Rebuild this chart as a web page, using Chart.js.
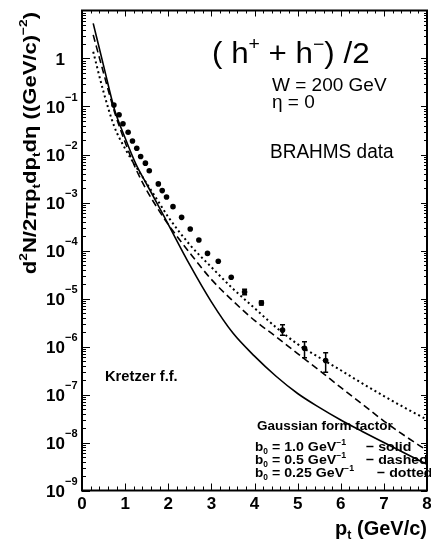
<!DOCTYPE html>
<html>
<head>
<meta charset="utf-8">
<script src="https://cdn.jsdelivr.net/npm/chart.js@4.4.1/dist/chart.umd.min.js"></script>
<style>
  html, body { margin: 0; padding: 0; background: #fff; }
  canvas { display: block; }
</style>
</head>
<body>
<canvas id="c" width="431" height="543"></canvas>
<script>
// BRAHMS charged hadrons, (h+ + h-)/2, eta = 0
const ptData = [0.74, 0.86, 0.95, 1.07, 1.17, 1.27, 1.36, 1.47, 1.56, 1.77, 1.86, 1.96,
                2.11, 2.31, 2.51, 2.71, 2.91, 3.16, 3.46, 3.77, 4.16, 4.65, 5.16, 5.65];
const yieldData = [0.107, 0.0675, 0.0438, 0.029, 0.0191, 0.0135, 0.0091, 0.0066, 0.0046,
                   2.44e-3, 1.77e-3, 1.3e-3, 8.2e-4, 4.9e-4, 2.8e-4, 1.65e-4, 8.7e-5, 5.96e-5,
                   2.77e-5, 1.37e-5, 8.1e-6, 2.2e-6, 9.2e-7, 5.1e-7];
const errLow  = [null, null, null, null, null, null, null, null, null, null, null, null,
                 null, null, null, null, null, null, null, 1.2e-5, 7.3e-6, 1.71e-6, 5.85e-7, 2.9e-7];
const errHigh = [null, null, null, null, null, null, null, null, null, null, null, null,
                 null, null, null, null, null, null, null, 1.55e-5, 8.9e-6, 2.85e-6, 1.26e-6, 7.4e-7];

// model curves, Gaussian form factor with three widths b0
const ptGrid = [0.26, 0.5, 0.75, 1.0, 1.25, 1.5, 1.75, 2.0, 2.5, 3.0, 3.5, 4.0, 4.5, 5.0,
                5.5, 6.0, 6.5, 7.0, 7.5, 8.0];
const solidB10 = [5.4, 0.71, 0.089, 0.022, 6.3e-3, 2.4e-3, 9.3e-4, 3.5e-4, 5.0e-5, 8.5e-6,
                  1.9e-6, 6.3e-7, 2.4e-7, 1.05e-7, 5.4e-8, 2.95e-8, 1.7e-8, 1.0e-8, 5.9e-9, 3.5e-9];
const dashedB05 = [3.1, 0.5, 0.079, 0.018, 5.0e-3, 1.8e-3, 7.6e-4, 3.5e-4, 8.9e-5, 2.5e-5,
                   8.9e-6, 3.5e-6, 1.6e-6, 7.1e-7, 3.2e-7, 1.4e-7, 6.3e-8, 2.8e-8, 1.35e-8, 6.8e-9];
const dottedB025 = [1.38, 0.2, 0.038, 0.0132, 5.6e-3, 2.5e-3, 1.12e-3, 5.0e-4, 1.32e-4, 4.5e-5,
                    1.6e-5, 6.3e-6, 2.5e-6, 1.12e-6, 5.9e-7, 3.2e-7, 1.7e-7, 9.3e-8, 5.2e-8, 3.0e-8];

// axis labels
const xTickLabels = ['0', '1', '2', '3', '4', '5', '6', '7', '8'];
const yTickValues = [1, 1e-1, 1e-2, 1e-3, 1e-4, 1e-5, 1e-6, 1e-7, 1e-8, 1e-9];
const yTickBase = ['1', '10', '10', '10', '10', '10', '10', '10', '10', '10'];
const yTickExp  = ['', '−1', '−2', '−3', '−4', '−5', '−6', '−7', '−8', '−9'];

const FONT = "'Liberation Sans', Arial, Helvetica, sans-serif";

function setFont(ctx, size, weight) {
  ctx.font = (weight || 'normal') + ' ' + size + 'px ' + FONT;
}
// parts: [text, 'n' | 'sup' | 'sub']
function richWidth(ctx, parts, size, weight) {
  let w = 0;
  for (const [t, k] of parts) {
    setFont(ctx, k === 'n' ? size : size * 0.62, weight);
    w += ctx.measureText(t).width;
  }
  return w;
}
function drawRich(ctx, parts, x, y, size, weight, align, sx) {
  sx = sx || 1;
  ctx.save();
  ctx.translate(x, y);
  ctx.scale(sx, 1);
  const w = richWidth(ctx, parts, size, weight);
  let cx = align === 'right' ? -w : align === 'center' ? -w / 2 : 0;
  ctx.textBaseline = 'alphabetic';
  ctx.textAlign = 'left';
  ctx.fillStyle = '#000';
  for (const [t, k] of parts) {
    const s = k === 'n' ? size : size * 0.62;
    setFont(ctx, s, weight);
    const dy = k === 'sup' ? -size * 0.45 : k === 'sub' ? size * 0.22 : 0;
    ctx.fillText(t, cx, dy);
    cx += ctx.measureText(t).width;
  }
  ctx.restore();
}

const framePlugin = {
  id: 'frame',
  afterDatasetsDraw(chart) {
    const ctx = chart.ctx, a = chart.chartArea;
    const xs = chart.scales.x, ys = chart.scales.y;
    ctx.save();
    ctx.strokeStyle = '#000';
    ctx.lineWidth = 1;
    ctx.beginPath();
    // bottom and top ticks, every 0.2
    for (let i = 0; i <= 40; i++) {
      const v = i * 0.2;
      const px = Math.round(xs.getPixelForValue(v)) + 0.5;
      const major = i % 5 === 0;
      const lb = major ? 7 : 4, lt = major ? 6 : 3;
      ctx.moveTo(px, a.bottom); ctx.lineTo(px, a.bottom - lb);
      ctx.moveTo(px, a.top); ctx.lineTo(px, a.top + lt);
    }
    // left and right log ticks
    for (let e = -9; e <= 0; e++) {
      for (let m = 1; m <= 9; m++) {
        const v = m * Math.pow(10, e);
        const py = Math.round(ys.getPixelForValue(v)) + 0.5;
        const major = m === 1;
        const ll = major ? 8 : 4, lr = major ? 6 : 3;
        ctx.moveTo(a.left, py); ctx.lineTo(a.left + ll, py);
        ctx.moveTo(a.right, py); ctx.lineTo(a.right - lr, py);
      }
    }
    ctx.stroke();
    ctx.lineWidth = 2;
    ctx.strokeRect(a.left, a.top, a.right - a.left, a.bottom - a.top);
    ctx.restore();
  }
};

const errorBarPlugin = {
  id: 'errorBars',
  afterDatasetsDraw(chart) {
    const ctx = chart.ctx;
    const xs = chart.scales.x, ys = chart.scales.y;
    ctx.save();
    ctx.strokeStyle = '#000';
    ctx.lineWidth = 1.5;
    ctx.beginPath();
    ptData.forEach((pt, i) => {
      if (errLow[i] == null) return;
      const px = xs.getPixelForValue(pt);
      const y1 = ys.getPixelForValue(errLow[i]);
      const y2 = ys.getPixelForValue(errHigh[i]);
      ctx.moveTo(px, y1); ctx.lineTo(px, y2);
      ctx.moveTo(px - 2.5, y1); ctx.lineTo(px + 2.5, y1);
      ctx.moveTo(px - 2.5, y2); ctx.lineTo(px + 2.5, y2);
    });
    ctx.stroke();
    ctx.restore();
  }
};

const textPlugin = {
  id: 'texts',
  afterDraw(chart) {
    const ctx = chart.ctx;
    const ys = chart.scales.y;
    // y tick labels with exponents
    yTickValues.forEach((v, i) => {
      const py = ys.getPixelForValue(v);
      drawRich(ctx, [[yTickBase[i], 'n']], 65, py + 6, 17, 'bold', 'right');
      if (yTickExp[i]) {
        drawRich(ctx, [[yTickExp[i], 'n']], 65, py - 6, 11, 'bold', 'left');
      }
    });
    // y axis title
    ctx.save();
    ctx.translate(36, 12);
    ctx.rotate(-Math.PI / 2);
    drawRich(ctx, [['d', 'n'], ['2', 'sup'], ['N/2πp', 'n'], ['t', 'sub'], ['dp', 'n'], ['t', 'sub'],
                   ['dη ((GeV/c)', 'n'], ['−2', 'sup'], [')', 'n']], 0, 0, 19, 'bold', 'right', 1.16);
    ctx.restore();
    // x axis title
    drawRich(ctx, [['p', 'n'], ['t', 'sub'], [' (GeV/c)', 'n']], 427, 535, 20, 'bold', 'right');
    // annotations
    drawRich(ctx, [['( h', 'n'], ['+', 'sup'], [' + h', 'n'], ['−', 'sup'], [') /2', 'n']], 212, 63, 29, 'normal', 'left', 1.08);
    drawRich(ctx, [['W = 200 GeV', 'n']], 272, 91, 19, 'normal', 'left');
    drawRich(ctx, [['η = 0', 'n']], 272, 108, 19, 'normal', 'left');
    drawRich(ctx, [['BRAHMS data', 'n']], 270, 158, 20, 'normal', 'left', 0.95);
    drawRich(ctx, [['Kretzer f.f.', 'n']], 105, 381, 14, 'bold', 'left', 1.05);
    drawRich(ctx, [['Gaussian form factor', 'n']], 257, 430, 13.5, 'bold', 'left');
    const bRows = [
      { y: 451, v: ' 1.0 GeV', tail: '− solid', tx: 366 },
      { y: 464, v: ' 0.5 GeV', tail: '− dashed', tx: 366 },
      { y: 477, v: ' 0.25 GeV', tail: '− dotted', tx: 377 }
    ];
    bRows.forEach(r => {
      drawRich(ctx, [['b', 'n'], ['0', 'sub']], 255, r.y, 13.5, 'bold', 'left');
      drawRich(ctx, [['=' + r.v, 'n'], ['−1', 'sup']], 272, r.y, 13.5, 'bold', 'left', 1.05);
      drawRich(ctx, [[r.tail, 'n']], r.tx, r.y, 13.5, 'bold', 'left', 1.05);
    });
  }
};

const curve = (ys) => ptGrid.map((x, i) => ({ x, y: ys[i] }));

new Chart(document.getElementById('c'), {
  type: 'scatter',
  data: {
    datasets: [
      {
        label: 'BRAHMS data',
        data: ptData.map((x, i) => ({ x, y: yieldData[i] })),
        pointRadius: 2.8,
        pointBackgroundColor: '#000',
        pointBorderColor: '#000',
        pointBorderWidth: 0,
        showLine: false
      },
      {
        type: 'line', label: 'b0 = 1.0',
        data: curve(solidB10),
        borderColor: '#000', borderWidth: 1.6, pointRadius: 0, fill: false,
        cubicInterpolationMode: 'monotone'
      },
      {
        type: 'line', label: 'b0 = 0.5',
        data: curve(dashedB05),
        borderColor: '#000', borderWidth: 1.6, borderDash: [7, 4], pointRadius: 0, fill: false,
        cubicInterpolationMode: 'monotone'
      },
      {
        type: 'line', label: 'b0 = 0.25',
        data: curve(dottedB025),
        borderColor: '#000', borderWidth: 2, borderDash: [2, 3], pointRadius: 0, fill: false,
        cubicInterpolationMode: 'monotone'
      }
    ]
  },
  options: {
    responsive: false,
    animation: false,
    devicePixelRatio: 1,
    layout: { padding: { top: 10.5, right: 1.5, left: 0, bottom: 0 } },
    plugins: { legend: { display: false }, tooltip: { enabled: false } },
    scales: {
      x: {
        type: 'linear', min: 0, max: 8,
        afterFit(s) { s.height = 52.5; s.paddingLeft = 0; s.paddingRight = 0; },
        grid: { display: false, drawTicks: false },
        border: { display: false },
        ticks: {
          stepSize: 1, autoSkip: false, maxRotation: 0, padding: 4, color: '#000',
          font: { family: FONT, size: 17, weight: 'bold' },
          callback: (v) => xTickLabels[v] ?? ''
        }
      },
      y: {
        type: 'logarithmic', min: 1e-9, max: 10,
        afterFit(s) { s.width = 82; s.paddingTop = 0; s.paddingBottom = 0; },
        grid: { display: false, drawTicks: false },
        border: { display: false },
        ticks: { display: false }
      }
    }
  },
  plugins: [framePlugin, errorBarPlugin, textPlugin]
});
</script>
</body>
</html>
